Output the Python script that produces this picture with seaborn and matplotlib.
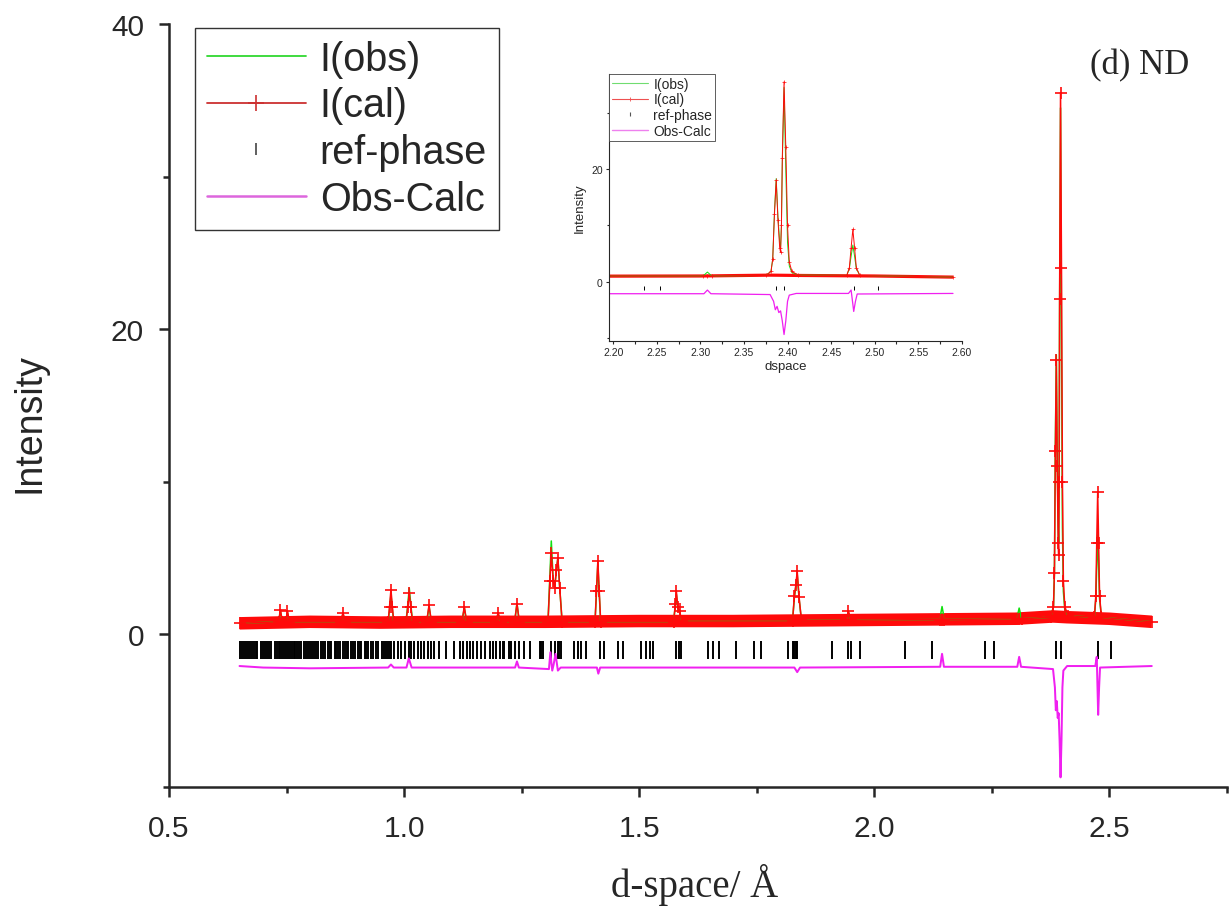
import matplotlib
matplotlib.use("Agg")
import matplotlib.pyplot as plt
from matplotlib.lines import Line2D
from matplotlib.ticker import MultipleLocator
import seaborn as sns
import pandas as pd

sns.set_style("ticks")
plt.rcParams["font.family"] = ["Liberation Sans", "DejaVu Sans"]

# ---- data ----
# background level of the pattern (the thick red band)
bg_d = [0.65, 0.80, 0.95, 1.10, 1.30, 1.50, 1.70, 1.90, 2.10, 2.30, 2.38, 2.41, 2.50, 2.59]
bg_i = [0.70, 0.80, 0.75, 0.80, 0.80, 0.85, 0.85, 0.90, 0.95, 1.00, 1.15, 1.10, 1.00, 0.80]

# profile vertices: d-spacing, calculated and observed intensity
d_pat = [0.650, 0.733, 0.737, 0.741, 0.748, 0.752, 0.756, 0.865, 0.870, 0.875,
         0.966, 0.969, 0.972, 0.975, 0.978, 1.004, 1.008, 1.011, 1.014, 1.018,
         1.048, 1.053, 1.058, 1.123, 1.128, 1.133, 1.195, 1.200, 1.205, 1.235,
         1.240, 1.245, 1.306, 1.310, 1.313, 1.317, 1.320, 1.324, 1.327, 1.331,
         1.336, 1.406, 1.409, 1.412, 1.415, 1.418, 1.573, 1.577, 1.579, 1.582,
         1.586, 1.590, 1.826, 1.830, 1.833, 1.836, 1.840, 1.845, 1.940, 1.945,
         1.950, 2.139, 2.144, 2.149, 2.303, 2.308, 2.313, 2.375, 2.381, 2.383,
         2.385, 2.387, 2.389, 2.391, 2.392, 2.393, 2.394, 2.396, 2.398, 2.400,
         2.402, 2.405, 2.412, 2.468, 2.471, 2.473, 2.475, 2.477, 2.479, 2.483,
         2.590]
i_cal = [0.70, 0.80, 1.60, 0.80, 0.80, 1.50, 0.80, 0.80, 1.40, 0.80,
         0.80, 1.80, 2.90, 1.80, 0.80, 0.80, 1.80, 2.70, 1.80, 0.80,
         0.80, 1.90, 0.80, 0.80, 1.80, 0.80, 0.80, 1.40, 0.80, 0.80,
         2.00, 0.80, 0.80, 3.50, 5.30, 3.50, 3.00, 4.20, 5.00, 3.00,
         0.80, 0.80, 2.80, 4.80, 2.80, 0.80, 0.80, 2.00, 2.80, 1.80,
         1.50, 0.85, 0.85, 2.50, 3.20, 4.10, 2.40, 0.90, 0.90, 1.50,
         0.90, 0.95, 0.95, 0.95, 1.00, 1.00, 1.00, 1.10, 1.80, 4.00,
         12.0, 18.0, 11.0, 6.00, 5.20, 10.0, 22.0, 35.5, 24.0, 10.0,
         3.50, 1.80, 1.20, 1.10, 2.50, 6.00, 9.30, 6.00, 2.50, 1.10,
         0.80]
i_obs = [0.70, 0.80, 1.50, 0.80, 0.80, 1.40, 0.80, 0.80, 1.30, 0.80,
         0.80, 1.60, 2.60, 1.60, 0.80, 0.80, 2.00, 3.00, 2.00, 0.80,
         0.80, 1.80, 0.80, 0.80, 1.70, 0.80, 0.80, 1.30, 0.80, 0.80,
         2.00, 0.80, 0.80, 3.80, 6.10, 3.60, 3.00, 4.20, 5.00, 3.00,
         0.80, 0.80, 2.60, 4.60, 2.60, 0.80, 0.80, 1.90, 2.60, 1.70,
         1.40, 0.85, 0.85, 2.40, 3.10, 3.90, 2.30, 0.90, 0.90, 1.40,
         0.90, 0.95, 1.80, 0.95, 1.00, 1.70, 1.00, 1.10, 1.80, 4.00,
         12.5, 18.3, 11.5, 7.00, 6.00, 10.0, 21.0, 34.5, 20.0, 7.00,
         2.80, 1.60, 1.20, 1.10, 2.30, 4.50, 6.50, 4.50, 2.30, 1.10,
         0.80]

# difference curve (obs - calc, offset)
d_diff = [0.650, 0.700, 0.800, 0.966, 0.972, 0.978, 1.005, 1.010, 1.016, 1.236,
          1.240, 1.244, 1.308, 1.311, 1.315, 1.318, 1.322, 1.327, 1.333, 1.410,
          1.413, 1.417, 1.830, 1.836, 1.842, 2.140, 2.144, 2.148, 2.304, 2.308,
          2.312, 2.380, 2.384, 2.386, 2.388, 2.390, 2.392, 2.394, 2.396, 2.398,
          2.400, 2.402, 2.410, 2.470, 2.473, 2.475, 2.476, 2.478, 2.480, 2.590]
i_diff = [-2.10, -2.20, -2.25, -2.20, -2.00, -2.20, -2.20, -1.60, -2.20, -2.20,
          -1.80, -2.20, -2.30, -1.20, -2.40, -2.00, -1.30, -2.40, -2.20, -2.20,
          -2.60, -2.20, -2.20, -2.50, -2.20, -2.15, -1.30, -2.15, -2.15, -1.50,
          -2.15, -2.30, -3.50, -5.00, -4.40, -5.50, -5.20, -7.00, -9.40, -7.00,
          -3.50, -2.40, -2.10, -2.10, -1.50, -4.00, -5.30, -3.50, -2.20, -2.10]

# reflection positions of the reference phase
ref_d = [0.652, 0.656, 0.660, 0.664, 0.668, 0.672, 0.676, 0.680, 0.684, 0.688,
         0.696, 0.700, 0.704, 0.708, 0.712, 0.716, 0.725, 0.729, 0.733, 0.737,
         0.741, 0.745, 0.749, 0.753, 0.757, 0.761, 0.765, 0.769, 0.773, 0.777,
         0.780, 0.788, 0.792, 0.796, 0.800, 0.804, 0.808, 0.812, 0.816, 0.824,
         0.828, 0.831, 0.838, 0.842, 0.845, 0.852, 0.856, 0.860, 0.863, 0.870,
         0.874, 0.878, 0.881, 0.888, 0.892, 0.895, 0.902, 0.906, 0.909, 0.916,
         0.920, 0.923, 0.930, 0.933, 0.940, 0.944, 0.953, 0.957, 0.961, 0.965,
         0.969, 0.973, 0.979, 0.987, 0.994, 1.001, 1.010, 1.015, 1.022, 1.029,
         1.036, 1.043, 1.050, 1.057, 1.064, 1.074, 1.089, 1.107, 1.118, 1.126,
         1.133, 1.140, 1.146, 1.155, 1.164, 1.172, 1.182, 1.189, 1.196, 1.203,
         1.210, 1.213, 1.222, 1.228, 1.235, 1.244, 1.256, 1.267, 1.288, 1.291,
         1.295, 1.313, 1.320, 1.327, 1.330, 1.334, 1.362, 1.369, 1.377, 1.387,
         1.416, 1.426, 1.454, 1.465, 1.504, 1.515, 1.522, 1.529, 1.579, 1.584,
         1.589, 1.646, 1.657, 1.670, 1.706, 1.745, 1.760, 1.816, 1.826, 1.829,
         1.833, 1.836, 1.909, 1.943, 1.951, 1.969, 2.066, 2.123, 2.235, 2.254,
         2.387, 2.396, 2.476, 2.504]

labels = ["I(obs)", "I(cal)", "ref-phase", "Obs-Calc"]

pattern = pd.DataFrame({"d": d_pat, "obs": i_obs, "cal": i_cal})
diff = pd.DataFrame({"d": d_diff, "diff": i_diff})

GREEN = "#10e010"
RED = "#ff0a0a"
MAGENTA = "#f020f0"


def draw_pattern(ax, band_w, lw, ms, mew, tick_y, tick_ms, tick_mew):
    sns.lineplot(x=bg_d, y=bg_i, ax=ax, color=RED, lw=band_w,
                 sort=False, estimator=None, solid_capstyle="butt")
    sns.lineplot(data=pattern, x="d", y="obs", ax=ax, color=GREEN, lw=lw,
                 sort=False, estimator=None)
    sns.lineplot(data=pattern, x="d", y="cal", ax=ax, color=RED, lw=lw,
                 marker="+", markersize=ms, markeredgewidth=mew,
                 markeredgecolor=RED, sort=False, estimator=None)
    ax.plot(ref_d, [tick_y] * len(ref_d), ls="none", marker="|",
            ms=tick_ms, mew=tick_mew, color="black")
    sns.lineplot(data=diff, x="d", y="diff", ax=ax, color=MAGENTA, lw=lw * 1.3,
                 sort=False, estimator=None)


fig = plt.figure(figsize=(12.31, 9.12), dpi=100)

# main plot
ax = fig.add_axes([169 / 1231, 1 - 787.5 / 912, 1058 / 1231, 762.5 / 912])
draw_pattern(ax, band_w=9, lw=1.1, ms=9, mew=1.2, tick_y=-1.05, tick_ms=13, tick_mew=1.4)
ax.set_xlim(0.5, 2.75)
ax.set_ylim(-10, 40)
ax.xaxis.set_major_locator(MultipleLocator(0.5))
ax.xaxis.set_minor_locator(MultipleLocator(0.25))
ax.yaxis.set_major_locator(MultipleLocator(20))
ax.yaxis.set_minor_locator(MultipleLocator(10))
sns.despine(ax=ax)
for s in ["left", "bottom"]:
    ax.spines[s].set_linewidth(1.8)
ax.tick_params(which="major", length=7, width=1.8, labelsize=21.5)
ax.tick_params(which="minor", length=4.5, width=1.8)
ax.tick_params(axis="x", which="major", pad=13)
ax.tick_params(axis="y", which="major", pad=11)
ax.set_xlabel("d-space/ Å", fontsize=28, family=["Liberation Serif", "DejaVu Serif"])
ax.xaxis.label.set_va("center")
ax.xaxis.set_label_coords(0.497, -0.128)
ax.set_ylabel("Intensity", fontsize=27)
ax.yaxis.label.set_va("center")
ax.yaxis.set_label_coords(-0.1314, 0.478)

handles = [
    Line2D([], [], color="#30d830", lw=1.3),
    Line2D([], [], color="#cc3030", lw=1.3, marker="+", ms=11, mew=1.2),
    Line2D([], [], color="#444444", ls="none", marker="|", ms=9, mew=1.2),
    Line2D([], [], color="#dd66dd", lw=1.8),
]
leg = ax.legend(handles, labels, loc="upper left", bbox_to_anchor=(0.0246, 0.995),
                borderaxespad=0, fontsize=28.5, handlelength=2.5, handletextpad=0.35,
                labelspacing=0.22, borderpad=0.3, numpoints=1, fancybox=False,
                framealpha=1, edgecolor="#333333")
leg.get_frame().set_linewidth(1.0)

fig.text(1090 / 1231, 1 - 66 / 912, "(d) ND", fontsize=25, va="center", ha="left",
         family=["Liberation Serif", "DejaVu Serif"])

# inset zoom on the strong peaks
axin = fig.add_axes([609 / 1231, 1 - 341.7 / 912, 352.7 / 1231, 266.7 / 912])
draw_pattern(axin, band_w=2.3, lw=0.7, ms=3, mew=0.5, tick_y=-1.1, tick_ms=3.5, tick_mew=0.7)
axin.set_xlim(2.195, 2.60)
axin.set_ylim(-10.5, 36.9)
axin.xaxis.set_major_locator(MultipleLocator(0.05))
axin.xaxis.set_minor_locator(MultipleLocator(0.025))
axin.yaxis.set_major_locator(MultipleLocator(20))
axin.yaxis.set_minor_locator(MultipleLocator(10))
sns.despine(ax=axin)
for s in ["left", "bottom"]:
    axin.spines[s].set_linewidth(0.8)
axin.tick_params(which="major", length=2.5, width=0.8, labelsize=7.5, pad=2)
axin.tick_params(which="minor", length=1.8, width=0.8)
axin.set_xlabel("dspace", fontsize=9.5, labelpad=2)
axin.set_ylabel("Intensity", fontsize=9.5, labelpad=4)
in_handles = [
    Line2D([], [], color="#70dd70", lw=0.8),
    Line2D([], [], color="#ee5050", lw=0.8, marker="+", ms=3, mew=0.6),
    Line2D([], [], color="#555555", ls="none", marker="|", ms=3, mew=0.8),
    Line2D([], [], color="#ee80ee", lw=1.0),
]
leg2 = axin.legend(in_handles, labels, loc="upper left", bbox_to_anchor=(0.0, 1.0),
                   borderaxespad=0, fontsize=10, handlelength=2.6, handletextpad=0.4,
                   labelspacing=0.12, borderpad=0.2, numpoints=1, fancybox=False,
                   framealpha=1, edgecolor="#444444")
leg2.get_frame().set_linewidth(0.6)

fig.savefig("out.png", dpi=100)
